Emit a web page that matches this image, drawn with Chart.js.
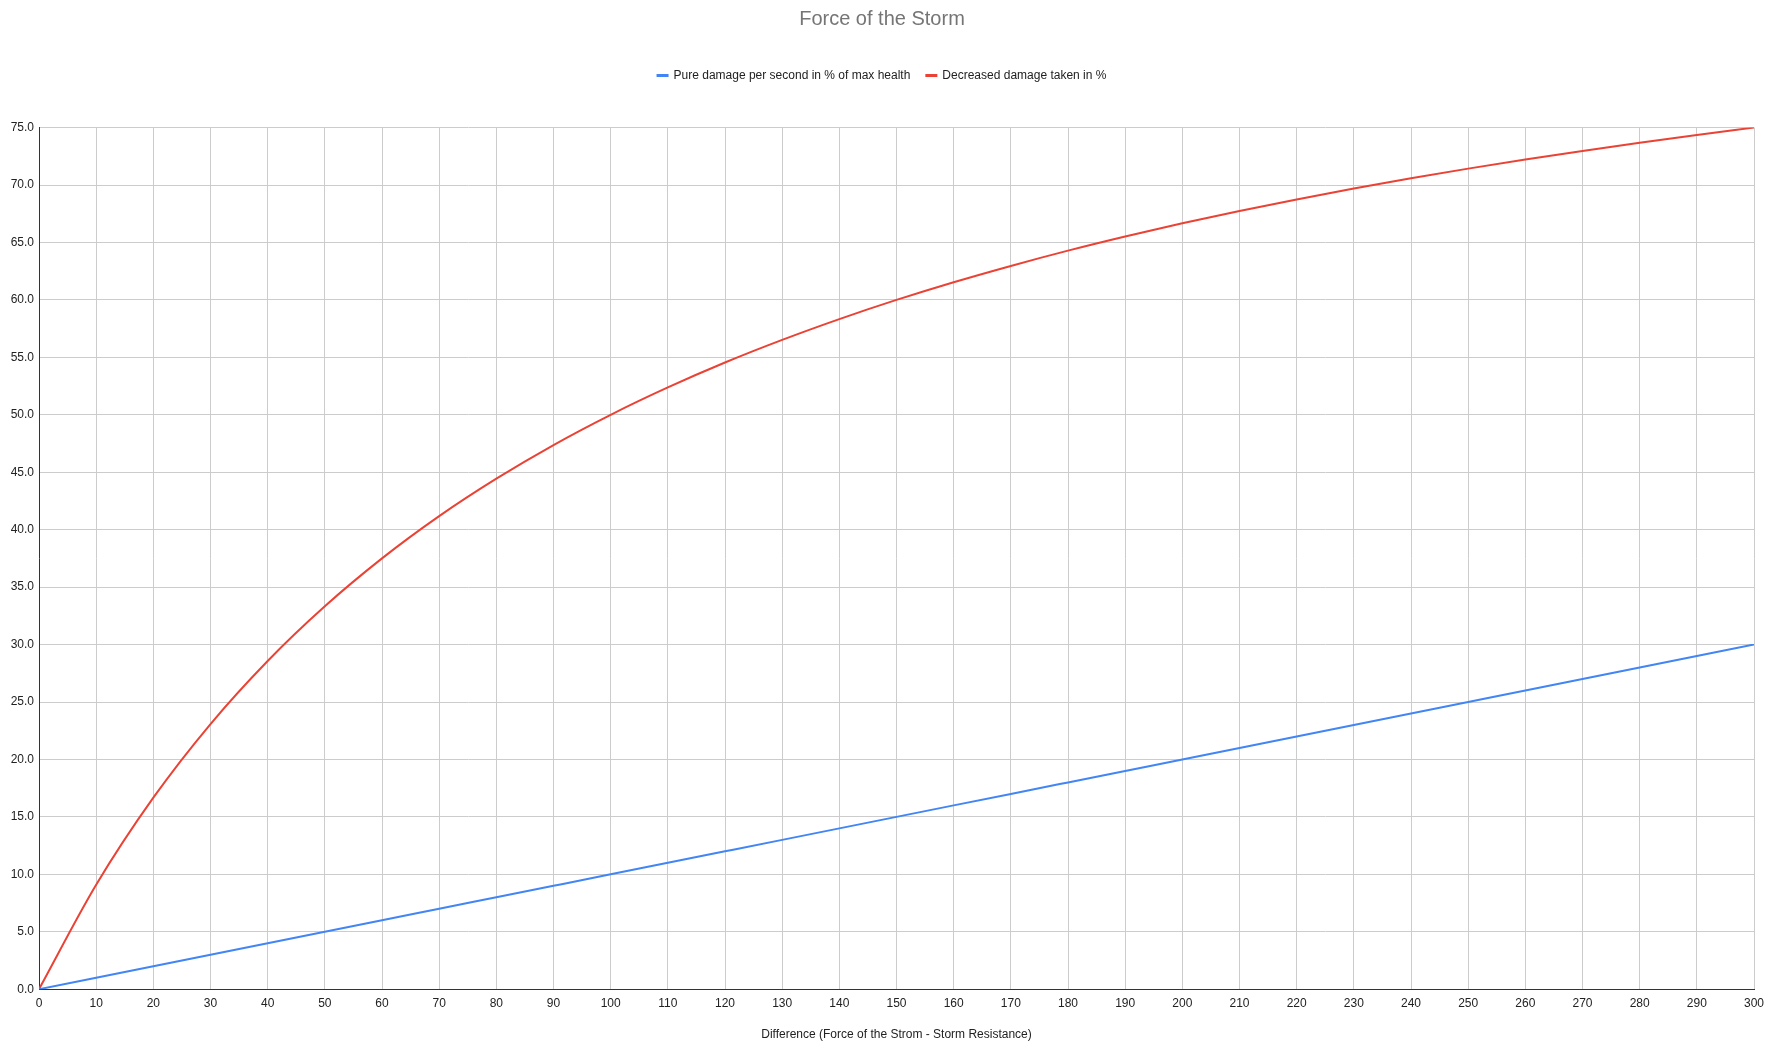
<!DOCTYPE html>
<html>
<head>
<meta charset="utf-8">
<title>Force of the Storm</title>
<script src="https://cdn.jsdelivr.net/npm/chart.js@4.4.1/dist/chart.umd.min.js"></script>
<style>
    html, body { margin: 0; padding: 0; background: #fff; }
</style>
</head>
<body>
<canvas id="stormChart" width="1775" height="1050"></canvas>
<script>
// Difference (Force of the Storm - Storm Resistance)
const differences = [0, 10, 20, 30, 40, 50, 60, 70, 80, 90, 100, 110, 120, 130, 140, 150,
    160, 170, 180, 190, 200, 210, 220, 230, 240, 250, 260, 270, 280, 290, 300];

// Pure damage per second in % of max health
const pureDamage = [0, 1, 2, 3, 4, 5, 6, 7, 8, 9, 10, 11, 12, 13, 14, 15,
    16, 17, 18, 19, 20, 21, 22, 23, 24, 25, 26, 27, 28, 29, 30];

// Decreased damage taken in %
const decreasedDamage = [0, 9.09, 16.67, 23.08, 28.57, 33.33, 37.5, 41.18, 44.44, 47.37, 50.0,
    52.38, 54.55, 56.52, 58.33, 60.0, 61.54, 62.96, 64.29, 65.52, 66.67, 67.74, 68.75, 69.7,
    70.59, 71.43, 72.22, 72.97, 73.68, 74.36, 75.0];

const seriesNames = ['Pure damage per second in % of max health', 'Decreased damage taken in %'];
const xRange = [0, 300];
const yRange = [0, 75];

const FONT = "'Liberation Sans', Arial, sans-serif";

const toPoints = (xs, ys) => xs.map((x, i) => ({ x: x, y: ys[i] }));

const ctx = document.getElementById('stormChart').getContext('2d');
const stormChart = new Chart(ctx, {
    type: 'line',
    data: {
        datasets: [{
            label: seriesNames[0],
            data: toPoints(differences, pureDamage),
            borderColor: '#4285F4',
            backgroundColor: '#4285F4',
            borderWidth: 2,
            pointRadius: 0,
            cubicInterpolationMode: 'monotone'
        }, {
            label: seriesNames[1],
            data: toPoints(differences, decreasedDamage),
            borderColor: '#EA4335',
            backgroundColor: '#EA4335',
            borderWidth: 2,
            pointRadius: 0,
            cubicInterpolationMode: 'monotone'
        }]
    },
    options: {
        responsive: false,
        devicePixelRatio: 1,
        animation: false,
        layout: {
            padding: { left: 10, right: 21, top: 0, bottom: 8 }
        },
        plugins: {
            title: {
                display: true,
                text: 'Force of the Storm',
                color: '#757575',
                font: { family: FONT, size: 20, weight: 'normal' },
                padding: { top: 7, bottom: 22.6 }
            },
            // empty spacer between legend and plot
            subtitle: {
                display: true,
                text: '',
                weight: 500,
                font: { family: FONT, size: 10 },
                padding: { top: 24, bottom: 0 }
            },
            legend: {
                position: 'top',
                labels: {
                    color: '#222',
                    font: { family: FONT, size: 12 },
                    boxWidth: 10,
                    boxHeight: 1,
                    padding: 16
                }
            },
            tooltip: { enabled: false }
        },
        scales: {
            x: {
                type: 'linear',
                min: xRange[0],
                max: xRange[1],
                ticks: {
                    stepSize: 10,
                    color: '#222',
                    font: { family: FONT, size: 12 },
                    padding: 7,
                    maxRotation: 0,
                    autoSkip: false
                },
                grid: { color: '#cccccc', drawTicks: false },
                border: { color: '#333', width: 1 },
                title: {
                    display: true,
                    text: 'Difference (Force of the Strom - Storm Resistance)',
                    color: '#222',
                    font: { family: FONT, size: 12 },
                    padding: { top: 10, bottom: 0 }
                }
            },
            y: {
                min: yRange[0],
                max: yRange[1],
                ticks: {
                    stepSize: 5,
                    color: '#222',
                    font: { family: FONT, size: 12 },
                    padding: 5,
                    callback: v => v.toFixed(1)
                },
                grid: { color: '#cccccc', drawTicks: false },
                border: { color: '#333', width: 1 },
                afterFit: scale => { scale.width = 29; }
            }
        }
    }
});
</script>
</body>
</html>
